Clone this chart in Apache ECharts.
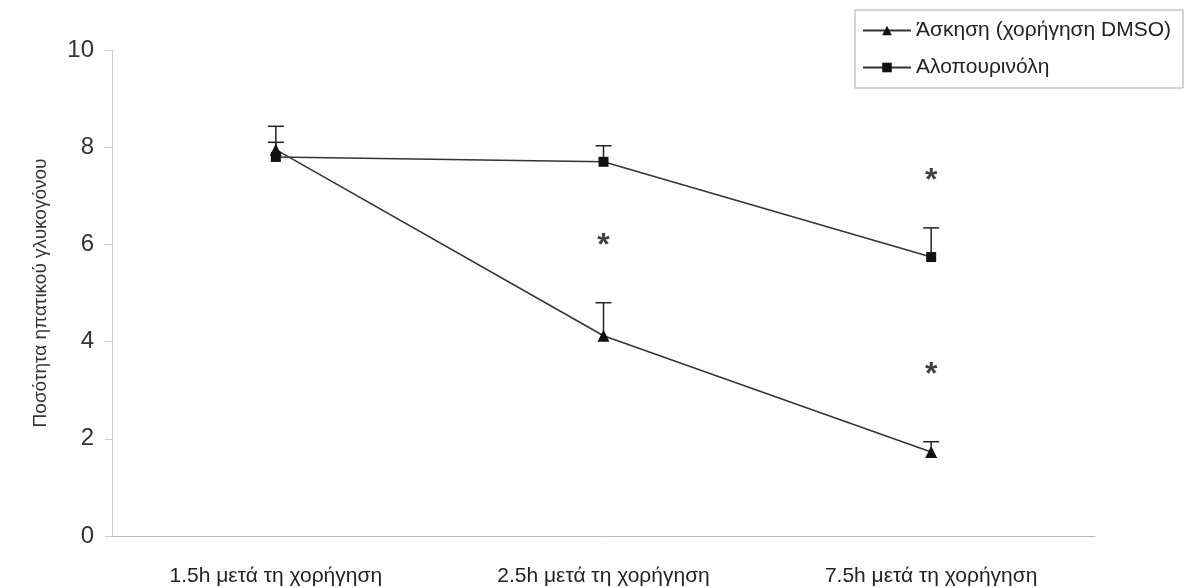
<!DOCTYPE html>
<html>
<head>
<meta charset="utf-8">
<script src="https://cdn.jsdelivr.net/npm/echarts@6/dist/echarts.min.js"></script>
<style>
  html, body { margin: 0; padding: 0; background: #fff; }
  #chart { width: 1190px; height: 588px; }
</style>
</head>
<body>
<div id="chart"></div>
<script>
// κατηγορίες και τιμές
var categories = ['1.5h μετά τη χορήγηση', '2.5h μετά τη χορήγηση', '7.5h μετά τη χορήγηση'];
var dmso = [7.95, 4.12, 1.73];
var dmsoErr = [0.48, 0.68, 0.21];
var allo = [7.8, 7.7, 5.74];
var alloErr = [0.3, 0.33, 0.6];
var stars = [[1, 6.1], [2, 7.45], [2, 3.45]];
var yTicks = [0, 2, 4, 6, 8, 10];

function errData(vals, errs) {
  var out = [];
  for (var i = 0; i < vals.length; i++) {
    out.push([i, vals[i], vals[i] + errs[i]]);
  }
  return out;
}

function renderErr(params, api) {
  var p0 = api.coord([api.value(0), api.value(1)]);
  var p1 = api.coord([api.value(0), api.value(2)]);
  var half = 8;
  var st = { stroke: '#222', lineWidth: 1.5 };
  return {
    type: 'group',
    children: [
      { type: 'line', shape: { x1: p0[0], y1: p0[1], x2: p1[0], y2: p1[1] }, style: st },
      { type: 'line', shape: { x1: p1[0] - half, y1: p1[1], x2: p1[0] + half, y2: p1[1] }, style: st }
    ]
  };
}

var myChart = echarts.init(document.getElementById('chart'));

var option = {
  backgroundColor: '#fff',
  animation: false,
  textStyle: { fontFamily: 'Liberation Sans, Arial, sans-serif' },
  grid: { left: 112, right: 95, top: 50, bottom: 52 },
  legend: {
    data: ['Άσκηση (χορήγηση DMSO)', 'Αλοπουρινόλη'],
    orient: 'vertical',
    left: 855,
    top: 10,
    itemWidth: 48,
    itemHeight: 12,
    itemGap: 16,
    padding: [10, 12, 10, 7],
    borderColor: '#aaa',
    borderWidth: 1,
    textStyle: { fontSize: 21, color: '#222' }
  },
  xAxis: {
    type: 'category',
    data: categories,
    boundaryGap: true,
    axisLine: { lineStyle: { color: '#bbb' } },
    axisTick: { show: false },
    axisLabel: { fontSize: 21, color: '#222', margin: 30 }
  },
  yAxis: {
    type: 'value',
    min: yTicks[0],
    max: yTicks[yTicks.length - 1],
    interval: 2,
    name: 'Ποσότητα ηπατικού γλυκογόνου',
    nameLocation: 'middle',
    nameGap: 62,
    nameTextStyle: { fontSize: 19, color: '#333' },
    axisLine: { show: true, lineStyle: { color: '#ccc' } },
    axisTick: { show: true, length: 7, lineStyle: { color: '#ccc' } },
    splitLine: { show: false },
    axisLabel: { fontSize: 24, color: '#333', margin: 18 }
  },
  series: [
    {
      name: 'Άσκηση (χορήγηση DMSO)',
      type: 'line',
      data: dmso,
      symbol: 'triangle',
      symbolSize: 12,
      itemStyle: { color: '#111' },
      lineStyle: { color: '#333', width: 1.5 },
      z: 3
    },
    {
      name: 'Αλοπουρινόλη',
      type: 'line',
      data: allo,
      symbol: 'rect',
      symbolSize: 10,
      itemStyle: { color: '#111' },
      lineStyle: { color: '#333', width: 1.5 },
      z: 3
    },
    {
      type: 'custom',
      renderItem: renderErr,
      data: errData(dmso, dmsoErr),
      encode: { x: 0, y: [1, 2] },
      z: 2
    },
    {
      type: 'custom',
      renderItem: renderErr,
      data: errData(allo, alloErr),
      encode: { x: 0, y: [1, 2] },
      z: 2
    },
    {
      type: 'scatter',
      data: stars,
      symbolSize: 1,
      itemStyle: { color: 'rgba(0,0,0,0)' },
      label: {
        show: true,
        position: 'inside',
        formatter: '*',
        fontSize: 32,
        fontWeight: 'bold',
        color: '#111',
        offset: [0, 7]
      }
    }
  ]
};

myChart.setOption(option);
</script>
</body>
</html>
